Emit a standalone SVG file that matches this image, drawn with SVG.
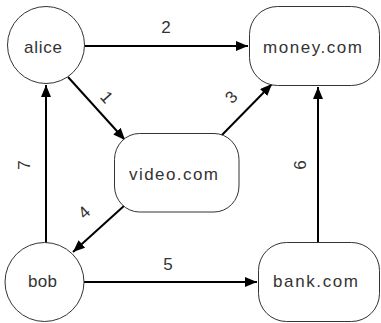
<svg xmlns="http://www.w3.org/2000/svg" width="381" height="323" viewBox="0 0 381 323">
<style>
.node{fill:#fff;stroke:#333;stroke-width:1}
.t{font-family:"Liberation Sans",Arial,sans-serif;font-size:17px;fill:#333}
.lbl{font-family:"Liberation Sans",Arial,sans-serif;font-size:17px;fill:#333;text-anchor:middle}
.ea{stroke:#000;stroke-width:2;fill:none;marker-end:url(#ah)}
</style>
<defs>
<marker id="ah" markerUnits="userSpaceOnUse" markerWidth="13" markerHeight="10" refX="12" refY="5" orient="auto">
<path d="M0,0 L12,5 L0,10 z" fill="#000"/>
</marker>
</defs>
<rect width="381" height="323" fill="#fff"/>
<g id="connectors">
<line class="ea" x1="85" y1="46" x2="248" y2="46"/>
<line class="ea" x1="68" y1="77" x2="125" y2="140"/>
<line class="ea" x1="220" y1="137" x2="272" y2="84"/>
<line class="ea" x1="125" y1="205" x2="73" y2="252"/>
<line class="ea" x1="46" y1="243" x2="46" y2="85"/>
<line class="ea" x1="84" y1="282" x2="257" y2="282"/>
<line class="ea" x1="318" y1="243" x2="318" y2="87"/>
<text class="lbl" x="166" y="33">2</text>
<text class="lbl" transform="translate(107,97) rotate(48)" y="6">1</text>
<text class="lbl" transform="translate(231,97) rotate(-45)" y="6">3</text>
<text class="lbl" transform="translate(84,212) rotate(-42)" y="6">4</text>
<text class="lbl" transform="translate(24,165) rotate(-90)" y="6">7</text>
<text class="lbl" transform="translate(300,165) rotate(-90)" y="6">6</text>
<text class="lbl" x="168" y="270">5</text>
</g>
<g id="alice">
<circle class="node" cx="46" cy="45" r="38.5"/>
<text class="t" x="24" y="53" textLength="38">alice</text>
</g>
<g id="money">
<rect class="node" x="249.5" y="6.5" width="130" height="79" rx="28" ry="28"/>
<text class="t" x="263" y="53" textLength="99">money.com</text>
</g>
<g id="video">
<rect class="node" x="114.5" y="133.5" width="124.5" height="78.5" rx="25" ry="26"/>
<text class="t" x="129" y="180" textLength="89">video.com</text>
</g>
<g id="bob">
<circle class="node" cx="44.5" cy="282" r="39.5"/>
<text class="t" x="28" y="287" textLength="29">bob</text>
</g>
<g id="bank">
<rect class="node" x="258.5" y="242.5" width="121" height="79" rx="28" ry="28"/>
<text class="t" x="273" y="287" textLength="85">bank.com</text>
</g>
</svg>
